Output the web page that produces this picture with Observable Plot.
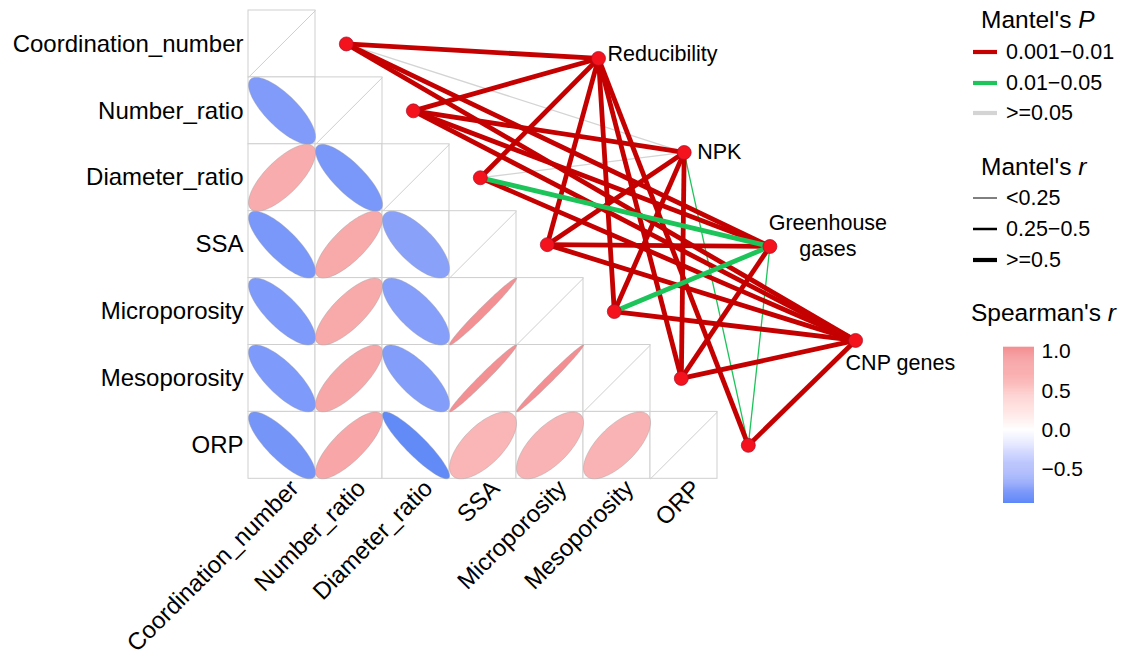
<!DOCTYPE html>
<html><head><meta charset="utf-8">
<script src="https://cdn.jsdelivr.net/npm/d3@7"></script>
<script src="https://cdn.jsdelivr.net/npm/@observablehq/plot@0.6"></script>
<style>
body{margin:0;background:#fff;font-family:"Liberation Sans",Arial,Helvetica,sans-serif;color:#000}
#wrap{position:relative;width:1121px;height:659px;overflow:hidden;background:#fff}
#chart{position:absolute;left:0;top:0}
#cbar{position:absolute;left:1003px;top:337px}
.lt{position:absolute;font-size:24.5px;line-height:28px;white-space:nowrap}
.li{position:absolute;font-size:21.5px;line-height:24px;white-space:nowrap}
.lk{position:absolute}
</style></head><body>
<div id="wrap"><div id="chart"></div><div id="cbar"></div><div id="legend"></div></div>
<script>
// ---------------- data ----------------
const envVars = ["Coordination_number","Number_ratio","Diameter_ratio","SSA","Microporosity","Mesoporosity","ORP"];
const specs = ["Reducibility","NPK","Greenhouse gases","CNP genes"];
// Spearman's r, lower triangle (row = envVars[i], columns 0..i-1)
const spearmanRows = [
  [],
  [-0.77],
  [0.74, -0.80],
  [-0.80, 0.77, -0.72],
  [-0.78, 0.77, -0.74, 0.985],
  [-0.78, 0.78, -0.76, 0.985, 0.99],
  [-0.82, 0.79, -0.91, 0.66, 0.68, 0.68]
];
// Mantel's r for each spec vs envVars
const mantelR_Reducibility = [0.62, 0.58, 0.55, 0.60, 0.57, 0.61, 0.56];
const mantelR_NPK          = [0.12, 0.52, 0.15, 0.55, 0.53, 0.56, 0.18];
const mantelR_GHG          = [0.58, 0.55, 0.52, 0.60, 0.51, 0.57, 0.17];
const mantelR_CNP          = [0.64, 0.61, 0.58, 0.63, 0.59, 0.62, 0.60];
// Mantel's P for each spec vs envVars
const mantelP_Reducibility = [0.004, 0.003, 0.005, 0.002, 0.004, 0.003, 0.006];
const mantelP_NPK          = [0.21, 0.006, 0.12, 0.005, 0.007, 0.004, 0.03];
const mantelP_GHG          = [0.003, 0.005, 0.028, 0.004, 0.035, 0.006, 0.041];
const mantelP_CNP          = [0.002, 0.003, 0.004, 0.002, 0.005, 0.003, 0.004];
const colorTicks = [1.0, 0.5, 0.0, -0.5];
const pLabels = ["0.001\u22120.01", "0.01\u22120.05", ">=0.05"];
const rLabels = ["<0.25", "0.25\u22120.5", ">=0.5"];

// ---------------- derived ----------------
const mantelR = [mantelR_Reducibility, mantelR_NPK, mantelR_GHG, mantelR_CNP];
const mantelP = [mantelP_Reducibility, mantelP_NPK, mantelP_GHG, mantelP_CNP];
const n = envVars.length;

const cells = [];
for (let i = 0; i < n; i++) for (let j = 0; j <= i; j++) cells.push({row: i, col: j, diag: i === j});

const ellipsePts = [];
spearmanRows.forEach((row, i) => row.forEach((r, j) => {
  const d = Math.acos(r), id = i + "-" + j;
  for (let k = 0; k < 90; k++) {
    const t = 2 * Math.PI * k / 90;
    ellipsePts.push({id, r, x: j + 0.5 + 0.5 * Math.cos(t + d / 2), y: i + 0.5 - 0.5 * Math.cos(t - d / 2)});
  }
}));

const envNodes = envVars.map((name, i) => ({name, x: i + 1.46, y: i + 0.5}));
const specNodes = specs.map((name, k) => ({name, x: 5.224 + 1.279 * k, y: 0.717 + 1.405 * k}));

const pColor = p => p < 0.01 ? "#c40000" : p < 0.05 ? "#1cc45a" : "#d4d4d4";
const rWidth = r => r < 0.25 ? 1.3 : r < 0.5 ? 2.7 : 4.8;
const edges = [];
specs.forEach((s, k) => envVars.forEach((e, i) => {
  const p = mantelP[k][i], r = mantelR[k][i];
  const layer = p >= 0.05 ? 0 : r < 0.25 ? 1 : p < 0.01 ? 2 : 3;
  edges.push({x1: envNodes[i].x, y1: envNodes[i].y, x2: specNodes[k].x, y2: specNodes[k].y, p, r, layer});
}));
edges.sort((a, b) => a.layer - b.layer);

const colorScale = {type: "linear", domain: [-1, 0, 1], range: ["#4a80f7", "#ffffff", "#f38e92"], interpolate: d3.interpolateLab, clamp: true};

// label offsets (layout, px)
const specLabelStyle = [
  {dx: 9, dy: -6, anchor: "start"},
  {dx: 13, dy: -2, anchor: "start"},
  {dx: 58, dy: -12, anchor: "middle"},
  {dx: -10, dy: 21, anchor: "start"}
];

const marks = [
  Plot.rect(cells, {x1: "col", x2: d => d.col + 1, y1: "row", y2: d => d.row + 1, fill: "white", stroke: "#cfcfcf", strokeWidth: 1}),
  Plot.link(cells.filter(d => d.diag), {x1: "col", y1: d => d.row + 1, x2: d => d.col + 1, y2: "row", stroke: "#cfcfcf", strokeWidth: 1}),
  Plot.line(ellipsePts, {x: "x", y: "y", z: "id", fill: "r", stroke: "#9a9a9a", strokeWidth: 0.4, curve: "linear-closed"}),
  Plot.link(edges, {x1: "x1", y1: "y1", x2: "x2", y2: "y2", stroke: {value: d => pColor(d.p), scale: null}, strokeWidth: d => rWidth(d.r)}),
  Plot.dot(envNodes.concat(specNodes), {x: "x", y: "y", r: 7, fill: "#f4121c", stroke: "#a3102c", strokeWidth: 0.7}),
  Plot.text(envVars, {x: 0, y: (d, i) => i + 0.5, text: d => d, textAnchor: "end", dx: -5, fontSize: 24, fill: "black"}),
  Plot.text(envVars, {x: (d, i) => i + 0.5, y: n, text: d => d, rotate: -45, textAnchor: "end", lineAnchor: "top", dx: 6, dy: -1, fontSize: 24, fill: "black"})
];
specNodes.forEach((s, k) => {
  const st = specLabelStyle[k];
  marks.push(Plot.text([s], {x: "x", y: "y", text: d => d.name === "Greenhouse gases" ? "Greenhouse\ngases" : d.name,
    textAnchor: st.anchor, dx: st.dx, dy: st.dy, fontSize: 21.5, lineHeight: 1.2, fill: "black"}));
});

const chart = Plot.plot({
  width: 1121, height: 659,
  marginTop: 0, marginRight: 0, marginBottom: 0, marginLeft: 0,
  x: {domain: [0, 13], range: [248, 248 + 67 * 13], axis: null},
  y: {domain: [0, 7], range: [10, 10 + 66.9 * 7], axis: null},
  color: colorScale,
  style: {fontFamily: '"Liberation Sans", Arial, sans-serif', background: "white", overflow: "visible"},
  marks
});
document.getElementById("chart").appendChild(chart);

// ---------------- colorbar ----------------
const cbLo = -0.93, cbHi = 1.05, nb = 160;
const bins = d3.range(nb).map(i => ({v1: cbLo + (cbHi - cbLo) * i / nb, v2: cbLo + (cbHi - cbLo) * (i + 1) / nb}));
const cbar = Plot.plot({
  width: 100, height: 176, marginTop: 10, marginBottom: 10, marginLeft: 0, marginRight: 69,
  x: {domain: [0, 1], axis: null},
  y: {domain: [cbLo, cbHi], axis: null},
  color: colorScale,
  style: {fontFamily: '"Liberation Sans", Arial, sans-serif', background: "transparent", overflow: "visible"},
  marks: [
    Plot.rect(bins, {x1: 0, x2: 1, y1: "v1", y2: d => d.v2 + 0.004, fill: d => (d.v1 + d.v2) / 2}),
    Plot.axisY({anchor: "right", ticks: colorTicks, tickFormat: d3.format(".1f"), tickSize: 0, tickPadding: 7, fontSize: 21, label: null, fill: "black"})
  ]
});
document.getElementById("cbar").appendChild(cbar);

// ---------------- Mantel legends ----------------
const leg = document.getElementById("legend");
function title(html, x, cy) {
  const d = document.createElement("div"); d.className = "lt"; d.innerHTML = html;
  d.style.left = x + "px"; d.style.top = (cy - 14) + "px"; leg.appendChild(d);
}
function item(text, cy, color, w) {
  const s = document.createElementNS("http://www.w3.org/2000/svg", "svg");
  s.setAttribute("width", 26); s.setAttribute("height", 10); s.setAttribute("class", "lk");
  s.style.left = "972px"; s.style.top = (cy - 5) + "px";
  const l = document.createElementNS("http://www.w3.org/2000/svg", "line");
  l.setAttribute("x1", 1); l.setAttribute("x2", 25); l.setAttribute("y1", 5); l.setAttribute("y2", 5);
  l.setAttribute("stroke", color); l.setAttribute("stroke-width", w);
  s.appendChild(l); leg.appendChild(s);
  const d = document.createElement("div"); d.className = "li"; d.textContent = text;
  d.style.left = "1006px"; d.style.top = (cy - 12) + "px"; leg.appendChild(d);
}
title("Mantel's <i>P</i>", 981, 20);
[0.005, 0.03, 0.2].forEach((p, i) => item(pLabels[i], [52, 83, 113][i], pColor(p), 4.2));
title("Mantel's <i>r</i>", 981, 167);
[0.1, 0.3, 0.6].forEach((r, i) => item(rLabels[i], [198, 229, 260][i], "#000", [1, 2.5, 4.2][i]));
title("Spearman's <i>r</i>", 971, 313);
</script>
</body></html>
